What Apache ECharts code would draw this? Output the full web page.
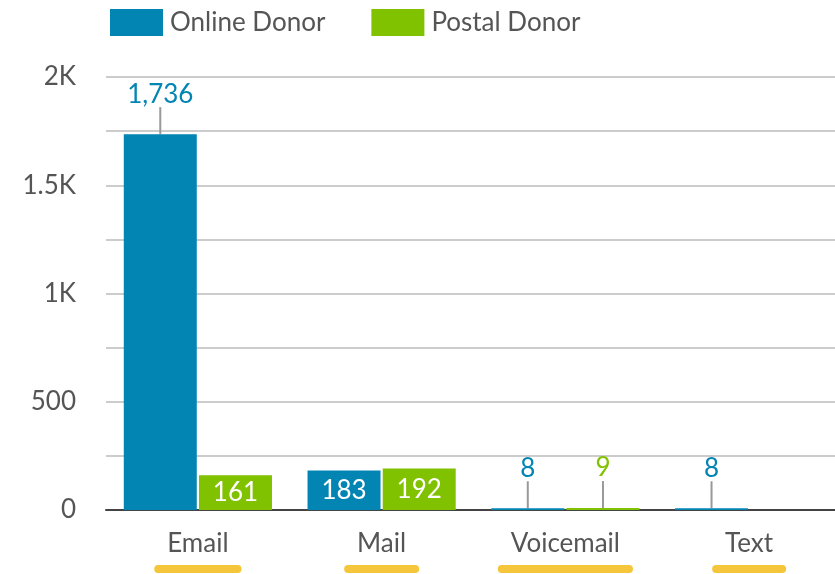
<!DOCTYPE html>
<html>
<head>
<meta charset="utf-8">
<script src="https://cdn.jsdelivr.net/npm/echarts@6/dist/echarts.min.js"></script>
<style>
  html, body { margin: 0; padding: 0; background: #fff; }
  #main { width: 835px; height: 574px; }
</style>
</head>
<body>
<div id="main"></div>
<script>
    var categories = ['Email', 'Mail', 'Voicemail', 'Text'];
    var onlineValues = [1736, 183, 8, 8];
    var postalValues = [161, 192, 9, 0];
    var seriesNames = ['Online Donor', 'Postal Donor'];

    var BLUE = '#0385b4';
    var GREEN = '#80c100';
    var FONT = 'Lato';

    // labels that don't fit inside the bar sit on a stalk above it
    function isInside(v) {
        return v >= 100 && v < 1000;
    }

    function buildData(values, color) {
        return values.map(function (v) {
            if (v === 0) {
                return { value: v, label: { show: false } };
            }
            if (isInside(v)) {
                return {
                    value: v,
                    label: { show: true, position: 'inside', color: '#fff' }
                };
            }
            return {
                value: v,
                label: { show: true, position: 'top', distance: 1, color: color },
                labelLine: { show: true, lineStyle: { color: '#999', width: 2 } }
            };
        });
    }

    function barSeries(name, values, color) {
        return {
            name: name,
            type: 'bar',
            barWidth: 73,
            barGap: '3%',
            itemStyle: { color: color },
            label: {
                fontFamily: FONT,
                fontSize: 26,
                formatter: function (p) { return p.value.toLocaleString('en-US'); }
            },
            labelLine: { show: false },
            labelLayout: function (params) {
                var v = values[params.dataIndex];
                if (v !== 0 && !isInside(v)) {
                    return { dy: -26 };
                }
            },
            data: buildData(values, color)
        };
    }

    var myChart = echarts.init(document.getElementById('main'));

    var option = {
        animation: false,
        textStyle: { fontFamily: FONT },
        legend: {
            left: 105,
            top: 4,
            itemWidth: 53,
            itemHeight: 27,
            itemGap: 46,
            icon: 'rect',
            textStyle: { fontFamily: FONT, fontSize: 26, color: '#555', padding: [0, 0, 0, 2] },
            data: seriesNames
        },
        grid: { left: 106, right: -6, top: 77, bottom: 64, outerBoundsMode: 'none', containLabel: false },
        xAxis: {
            type: 'category',
            data: categories,
            axisLine: { lineStyle: { color: '#444', width: 2 } },
            axisTick: { show: false },
            axisLabel: {
                margin: 12,
                formatter: function (v) { return '{t|' + v + '}\n{u|' + v + '}'; },
                rich: {
                    t: { fontFamily: FONT, fontSize: 26, color: '#555', lineHeight: 43 },
                    u: {
                        fontFamily: FONT, fontSize: 26, color: 'transparent',
                        backgroundColor: '#f5c63b', height: 8, lineHeight: 8,
                        borderRadius: 4, padding: [0, 13]
                    }
                }
            }
        },
        yAxis: {
            type: 'value',
            min: 0,
            max: 2000,
            interval: 250,
            axisLine: { show: false },
            axisTick: { show: false },
            splitLine: { lineStyle: { color: '#ccc', width: 2 } },
            axisLabel: {
                margin: 30,
                fontFamily: FONT,
                fontSize: 26,
                color: '#555',
                formatter: function (v) {
                    if (v % 500 !== 0) return '';
                    return v >= 1000 ? (v / 1000) + 'K' : String(v);
                }
            }
        },
        series: [
            barSeries(seriesNames[0], onlineValues, BLUE),
            barSeries(seriesNames[1], postalValues, GREEN)
        ]
    };

    myChart.setOption(option);
</script>
</body>
</html>
